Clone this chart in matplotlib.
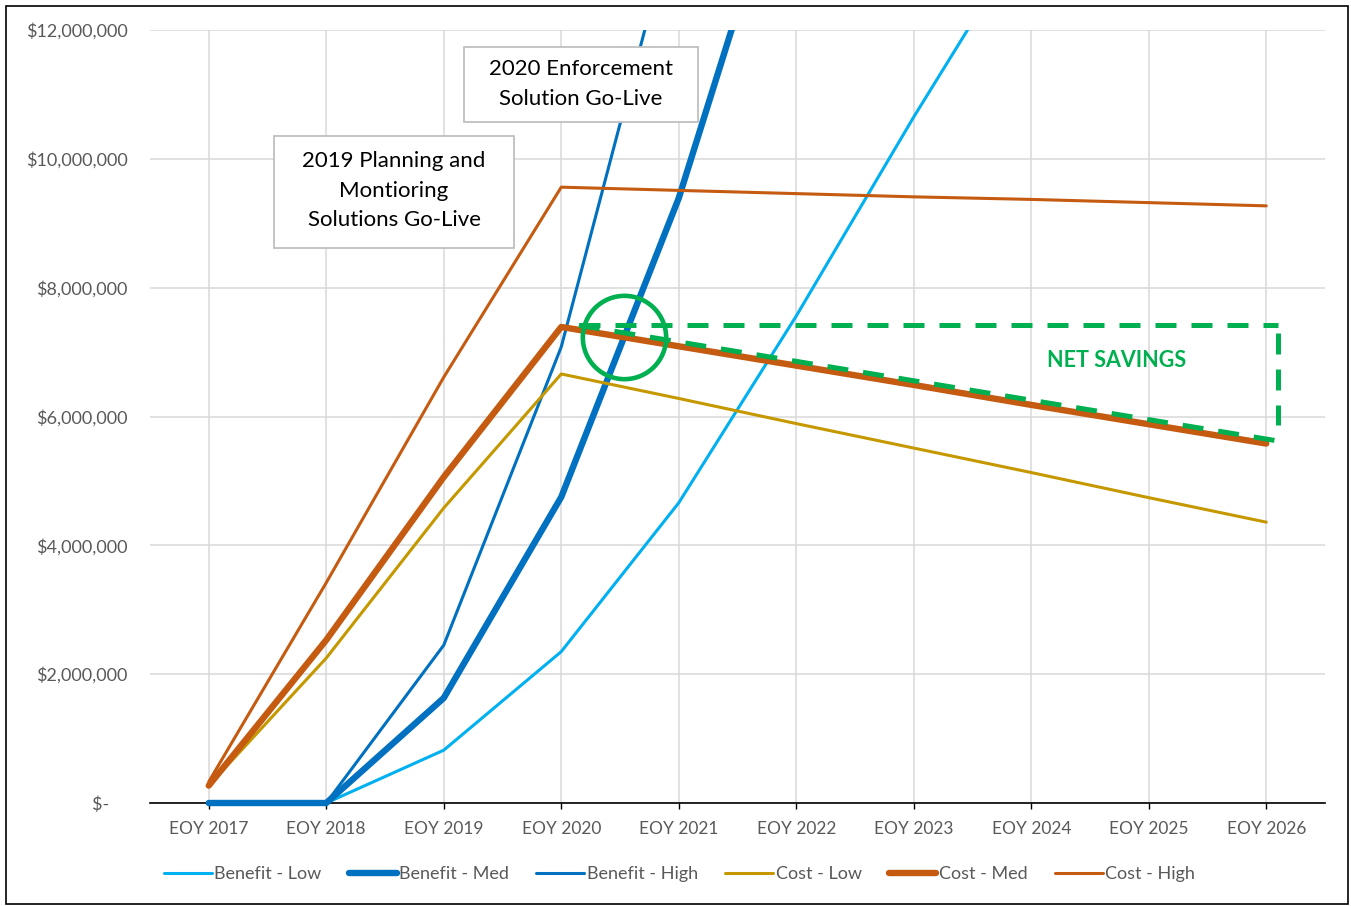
import numpy as np
import matplotlib.pyplot as plt
from matplotlib.patches import Rectangle
from matplotlib.ticker import FuncFormatter

plt.rcParams['font.family'] = ['Lato', 'DejaVu Sans']

years = ['EOY 2017', 'EOY 2018', 'EOY 2019', 'EOY 2020', 'EOY 2021',
         'EOY 2022', 'EOY 2023', 'EOY 2024', 'EOY 2025', 'EOY 2026']

# values in $ millions (points above $12M are off-chart estimates)
benefit_low = [0, 0, 0.82, 2.35, 4.66, 7.56, 10.65, 13.6, 16.5, 19.4]
benefit_med = [0, 0, 1.63, 4.75, 9.39, 15.2, 21.0, 26.8, 32.6, 38.4]
benefit_high = [0, 0, 2.45, 7.08, 14.0, 21.0, 28.0, 35.0, 42.0, 49.0]
cost_low = [0.27, 2.25, 4.58, 6.66, 6.28, 5.89, 5.51, 5.13, 4.74, 4.36]
cost_med = [0.27, 2.53, 5.06, 7.39, 7.09, 6.79, 6.49, 6.18, 5.88, 5.58]
cost_high = [0.33, 3.42, 6.61, 9.56, 9.51, 9.46, 9.41, 9.37, 9.32, 9.27]

series = [
    ('Benefit - Low', benefit_low, '#00B0F0', 2.2),
    ('Benefit - Med', benefit_med, '#0070C0', 4.6),
    ('Benefit - High', benefit_high, '#0070C0', 2.2),
    ('Cost - Low', cost_low, '#C59800', 2.2),
    ('Cost - Med', cost_med, '#C55A11', 4.6),
    ('Cost - High', cost_high, '#C55A11', 2.2),
]

green = '#00B050'
grey_txt = '#595959'

fig = plt.figure(figsize=(13.51, 9.06), dpi=100)
ax = fig.add_axes([150 / 1351, 1 - 803 / 906, 1175 / 1351, 773 / 906])

x = np.arange(len(years))
clip = Rectangle((0, -0.03), 1, 1.03, transform=ax.transAxes, fill=False)
handles = []
for name, vals, col, lw in series:
    ln, = ax.plot(x, np.array(vals) * 1e6, color=col, lw=lw, label=name,
                  solid_capstyle='round', solid_joinstyle='round', zorder=3)
    ln.set_clip_path(clip)
    handles.append(ln)

ax.set_xlim(-0.5, len(years) - 0.5)
ax.set_ylim(0, 12e6)
ax.set_yticks(np.arange(0, 12.1e6, 2e6))
ax.yaxis.set_major_formatter(FuncFormatter(
    lambda v, p: '$-    ' if v == 0 else '${:,.0f}'.format(v)))
ax.set_xticks(x)
ax.set_xticklabels(years)
ax.tick_params(axis='y', length=0, pad=16, labelsize=13, labelcolor=grey_txt)
ax.tick_params(axis='x', length=4, width=1, direction='out', pad=9,
               labelsize=12.5, labelcolor=grey_txt)
ax.grid(color='#D9D9D9', lw=1.1)
ax.set_axisbelow(True)
for s in ['left', 'top', 'right']:
    ax.spines[s].set_visible(False)
ax.spines['bottom'].set_linewidth(1.2)
ax.spines['bottom'].set_zorder(2.5)

# break-even circle where Benefit - Med meets Cost - Med
bm = np.array(benefit_med[3:5]) * 1e6
cm = np.array(cost_med[3:5]) * 1e6
t = (cm[0] - bm[0]) / ((bm[1] - bm[0]) - (cm[1] - cm[0]))
ax.plot(3 + t, bm[0] + t * (bm[1] - bm[0]), 'o', ms=60, mfc='none',
        mec=green, mew=3.3, zorder=5)

# net savings dashed outline
x0, x1 = 3.15, 9.1
top = cost_med[3] * 1e6 + 0.03e6
slope = (cost_med[9] - cost_med[3]) / 6 * 1e6
diag0 = cost_med[3] * 1e6 + (x0 - 3) * slope + 0.07e6
diag1 = cost_med[3] * 1e6 + (x1 - 3) * slope + 0.07e6
dash = dict(color=green, lw=3.6, dashes=(4.2, 3), zorder=4, clip_on=False)
ax.plot([x0, x1], [top, top], **dash)
ax.plot([x1, x1], [top - 0.12e6, diag1 + 0.25e6], **dash)
ax.plot([x0, x1], [diag0, diag1], **dash)
ax.text(0.823, 0.573, 'NET SAVINGS', transform=ax.transAxes, color=green,
        fontsize=15.5, fontweight='bold', ha='center', va='center', zorder=6)

# go-live callouts
boxes = [
    ((0.2672, 0.881), 0.1992, 0.097, (0.3668, 0.930),
     '2020 Enforcement\nSolution Go-Live'),
    ((0.1055, 0.718), 0.2043, 0.1449, (0.2077, 0.792),
     '2019 Planning and\nMontioring\nSolutions Go-Live'),
]
for (bx, by), bw, bh, (tx, ty), txt in boxes:
    ax.add_patch(Rectangle((bx, by), bw, bh, transform=ax.transAxes,
                           facecolor='white', edgecolor='#BFBFBF', lw=1.3,
                           zorder=7))
    ax.text(tx, ty, txt, transform=ax.transAxes, ha='center', va='center',
            fontsize=16, linespacing=1.6, color='black', zorder=8)

ax.legend(handles=handles, loc='center', bbox_to_anchor=(0.503, 0.0353),
          bbox_transform=fig.transFigure, ncol=6, frameon=False, fontsize=13,
          handlelength=2.65, handletextpad=0.15, columnspacing=1.5,
          labelcolor=grey_txt)

fig.add_artist(Rectangle((0.0044, 0.0022), 0.9933, 0.9912,
                         transform=fig.transFigure, fill=False,
                         edgecolor='black', lw=1.2))

fig.savefig('out.png', dpi=100)
